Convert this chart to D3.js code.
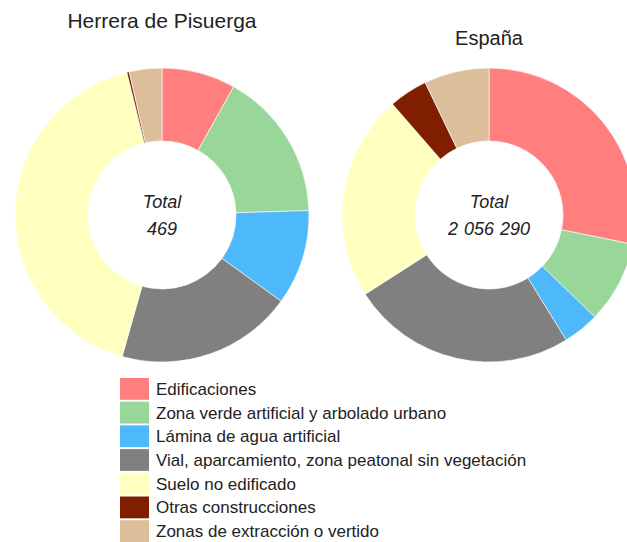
<!DOCTYPE html>
<html>
<head>
<meta charset="utf-8">
<script src="https://cdn.jsdelivr.net/npm/d3@7"></script>
<style>
	body{margin:0;background:#fff}
	svg{display:block}
	text{font-family:"Liberation Sans",Arial,sans-serif;fill:#222}
</style>
</head>
<body>
<div id="grafico"></div>
<script>
// categorias de uso del suelo
const categorias = ["Edificaciones", "Zona verde artificial y arbolado urbano", "Lámina de agua artificial",
	"Vial, aparcamiento, zona peatonal sin vegetación", "Suelo no edificado", "Otras construcciones",
	"Zonas de extracción o vertido"]
const colores = ["#ff7f7f", "#99d699", "#4db8fa", "#808080", "#ffffc0", "#7f1f00", "#dcbf9a"]

// superficies (ha)
const valoresHerrera = [38, 77, 49, 91, 196, 1.2, 16.8]
const valoresEspana = [579900, 185100, 82250, 508900, 465750, 87400, 146990]

const titulos = ["Herrera de Pisuerga", "España"]
const totales = ["469", "2 056 290"]

const ancho = 627, alto = 542

const svg = d3.select("#grafico").append("svg")
	.attr("width", ancho)
	.attr("height", alto)

const pie = d3.pie().sort(null).value(d => d)
const arco = d3.arc().innerRadius(74).outerRadius(147)

// un donut por zona
const donuts = [
	{datos: valoresHerrera, cx: 162, titulo: titulos[0], tituloY: 28, tam: 21, total: totales[0]},
	{datos: valoresEspana, cx: 489, titulo: titulos[1], tituloY: 45, tam: 20, total: totales[1]}
]

donuts.forEach(d => {
	svg.append("text")
		.attr("x", d.cx)
		.attr("y", d.tituloY)
		.attr("text-anchor", "middle")
		.style("font-size", d.tam + "px")
		.text(d.titulo)

	let g = svg.append("g")
		.attr("transform", "translate(" + d.cx + ",215)")

	g.selectAll("path")
		.data(pie(d.datos))
		.enter()
		.append("path")
		.attr("d", arco)
		.attr("fill", (s, i) => colores[i])
		.attr("stroke", "#fff")
		.attr("stroke-width", 0.6)

	g.append("text")
		.attr("y", -7)
		.attr("text-anchor", "middle")
		.style("font-size", "18px")
		.style("font-style", "italic")
		.text("Total")
	g.append("text")
		.attr("y", 20)
		.attr("text-anchor", "middle")
		.style("font-size", "18px")
		.style("font-style", "italic")
		.style("word-spacing", "1px")
		.text(d.total)
})

// leyenda
const y = d3.scaleBand()
	.domain(categorias)
	.range([378, 542])
	.paddingInner(0.08)

const leyenda = svg.append("g")

leyenda.selectAll("rect")
	.data(categorias)
	.enter()
	.append("rect")
	.attr("x", 120)
	.attr("y", c => y(c))
	.attr("width", 29)
	.attr("height", y.bandwidth())
	.attr("fill", (c, i) => colores[i])

leyenda.selectAll("text")
	.data(categorias)
	.enter()
	.append("text")
	.attr("x", 156)
	.attr("y", c => y(c) + y.bandwidth() / 2 + 6)
	.style("font-size", "17px")
	.text(c => c)
</script>
</body>
</html>
